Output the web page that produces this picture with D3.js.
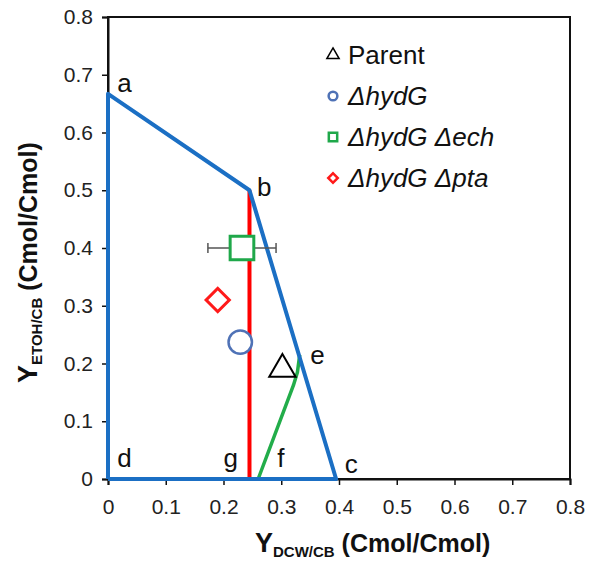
<!DOCTYPE html>
<html>
<head>
<meta charset="utf-8">
<script src="https://cdn.jsdelivr.net/npm/d3@7"></script>
<style>
  body { margin: 0; background: #fff; }
  svg text { font-family: "Liberation Sans", Arial, sans-serif; }
</style>
</head>
<body>
<svg id="chart" width="589" height="562"></svg>
<script>
// flux envelope corners (a -> b -> c, closed along the axes)
const envelopeX = [0, 0, 0.245, 0.395, 0];
const envelopeY = [0, 0.667, 0.5, 0, 0];
// red constraint line g -> b
const redX = [0.245, 0.245];
const redY = [0, 0.5];
// green constraint line f -> e
const greenX = [0.26, 0.321, 0.328, 0.332];
const greenY = [0, 0.162, 0.185, 0.215];

// corner labels
const cornerNames = ["a", "b", "c", "d", "e", "f", "g"];
const cornerX = [0.016, 0.258, 0.41, 0.016, 0.35, 0.293, 0.2];
const cornerY = [0.67, 0.49, 0.01, 0.02, 0.2, 0.02, 0.02];

// strains
const strains = ["Parent", "ΔhydG", "ΔhydG Δech", "ΔhydG Δpta"];
const strainX = [0.302, 0.229, 0.232, 0.19];
const strainY = [0.19, 0.237, 0.40, 0.31];
const strainErrX = [0, 0, 0.059, 0];

const xTicks = [0, 0.1, 0.2, 0.3, 0.4, 0.5, 0.6, 0.7, 0.8];
const yTicks = [0, 0.1, 0.2, 0.3, 0.4, 0.5, 0.6, 0.7, 0.8];

const blue = "#1b6fc4", red = "#ff0000", green = "#22ad4a";
const strainColor = ["#000", "#4f72b6", "#1fa84a", "#ff1a1a"];
const strainShape = [d3.symbolTriangle, d3.symbolCircle, d3.symbolSquare, d3.symbolSquare];
const strainRotate = [0, 0, 0, 45];

const svg = d3.select("#chart");
const x = d3.scaleLinear().domain([0, 0.8]).range([108, 570]);
const y = d3.scaleLinear().domain([0, 0.8]).range([479, 17]);

// frame
svg.append("rect")
  .attr("x", x(0)).attr("y", y(0.8))
  .attr("width", x(0.8) - x(0)).attr("height", y(0) - y(0.8))
  .attr("fill", "none").attr("stroke", "#111").attr("stroke-width", 2);

const fmt = d => d === 0 ? "0" : d3.format(".1f")(d);

const xAxis = svg.append("g")
  .attr("transform", `translate(0,${y(0)})`)
  .call(d3.axisBottom(x).tickValues(xTicks).tickFormat(fmt).tickSize(6).tickPadding(14));
const yAxis = svg.append("g")
  .attr("transform", `translate(${x(0)},0)`)
  .call(d3.axisLeft(y).tickValues(yTicks).tickFormat(fmt).tickSize(6).tickPadding(9));

[xAxis, yAxis].forEach(g => {
  g.select(".domain").attr("stroke", "#111").attr("stroke-width", 2);
  g.selectAll(".tick line").attr("stroke", "#111").attr("stroke-width", 1.5);
  g.selectAll(".tick text").attr("font-size", 21).attr("fill", "#222")
    .style("font-family", "'Liberation Sans', Arial, sans-serif");
});

const line = d3.line().x(d => x(d[0])).y(d => y(d[1]));

// red line
svg.append("path")
  .attr("d", line(redX.map((v, i) => [v, redY[i]])))
  .attr("fill", "none").attr("stroke", red).attr("stroke-width", 4);

// green line
svg.append("path")
  .attr("d", line(greenX.map((v, i) => [v, greenY[i]])))
  .attr("fill", "none").attr("stroke", green).attr("stroke-width", 3.5)
  .attr("stroke-linejoin", "round");

// blue envelope
svg.append("path")
  .attr("d", line(envelopeX.map((v, i) => [v, envelopeY[i]])))
  .attr("fill", "none").attr("stroke", blue).attr("stroke-width", 4)
  .attr("stroke-linejoin", "round");

// corner labels
svg.selectAll(".corner")
  .data(cornerNames)
  .join("text")
  .attr("class", "corner")
  .attr("x", (d, i) => x(cornerX[i]))
  .attr("y", (d, i) => y(cornerY[i]))
  .attr("font-size", 26)
  .attr("fill", "#111")
  .text(d => d);

// error bar for the Δech strain
strainErrX.forEach((e, i) => {
  if (!e) return;
  const g = svg.append("g").attr("stroke", "#555").attr("stroke-width", 1.5);
  g.append("line").attr("x1", x(strainX[i] - e)).attr("x2", x(strainX[i] + e))
    .attr("y1", y(strainY[i])).attr("y2", y(strainY[i]));
  [strainX[i] - e, strainX[i] + e].forEach(v => {
    g.append("line").attr("x1", x(v)).attr("x2", x(v))
      .attr("y1", y(strainY[i]) - 5).attr("y2", y(strainY[i]) + 5);
  });
});

// strain markers
const markerSize = [300, 430, 560, 270];
const markerWidth = [2, 2.5, 3, 3];
svg.selectAll(".strain")
  .data(strains)
  .join("path")
  .attr("class", "strain")
  .attr("transform", (d, i) => `translate(${x(strainX[i])},${y(strainY[i])}) rotate(${strainRotate[i]})`)
  .attr("d", (d, i) => d3.symbol(strainShape[i], markerSize[i])())
  .attr("fill", "#fff")
  .attr("stroke", (d, i) => strainColor[i])
  .attr("stroke-width", (d, i) => markerWidth[i]);

// legend
const legend = svg.append("g").attr("transform", "translate(333,55)");
const legendRow = legend.selectAll("g")
  .data(strains)
  .join("g")
  .attr("transform", (d, i) => `translate(0,${i * 41})`);
legendRow.append("path")
  .attr("transform", (d, i) => `rotate(${strainRotate[i]})`)
  .attr("d", (d, i) => d3.symbol(strainShape[i], [65, 60, 70, 45][i])())
  .attr("fill", "#fff")
  .attr("stroke", (d, i) => strainColor[i])
  .attr("stroke-width", (d, i) => i === 0 ? 1.5 : 2.5);
legendRow.append("text")
  .attr("x", 15)
  .attr("dy", "0.36em")
  .attr("font-size", 26)
  .attr("font-style", (d, i) => i === 0 ? "normal" : "italic")
  .attr("fill", "#111")
  .text(d => d);

// axis titles
const xTitle = svg.append("text")
  .attr("x", 255).attr("y", 552)
  .attr("font-weight", "bold").attr("fill", "#111");
xTitle.append("tspan").attr("font-size", 27).text("Y");
xTitle.append("tspan").attr("font-size", 15).attr("dy", 5).text("DCW/CB");
xTitle.append("tspan").attr("font-size", 25).attr("dy", -5).text(" (Cmol/Cmol)");

const yTitle = svg.append("text")
  .attr("transform", "translate(37,383) rotate(-90)")
  .attr("font-weight", "bold").attr("fill", "#111");
yTitle.append("tspan").attr("font-size", 27).text("Y");
yTitle.append("tspan").attr("font-size", 15).attr("dy", 5).text("ETOH/CB");
yTitle.append("tspan").attr("font-size", 25).attr("dy", -5).text(" (Cmol/Cmol)");
</script>
</body>
</html>
